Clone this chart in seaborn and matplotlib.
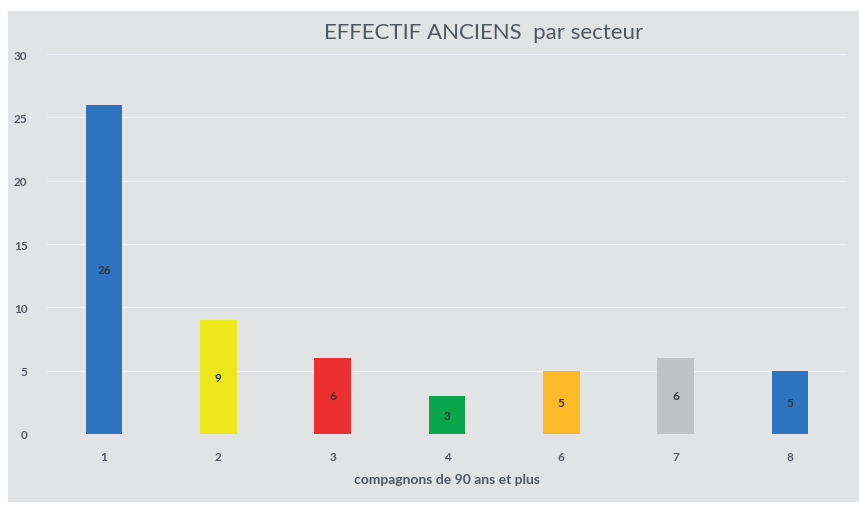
import numpy as np
import pandas as pd
import matplotlib
matplotlib.use("Agg")
import matplotlib.pyplot as plt
import seaborn as sns

secteurs = ['1', '2', '3', '4', '6', '7', '8']
effectifs = [26, 9, 6, 3, 5, 6, 5]
couleurs = ['#2e74c0', '#ece81c', '#ec3030', '#0aa54c', '#fdb92a', '#c0c2c4', '#2e74c0']

df = pd.DataFrame({'secteur': secteurs, 'effectif': effectifs})

sns.set_theme(style='white')
plt.rcParams['font.family'] = ['Lato', 'DejaVu Sans']

bg = '#e2e3e5'
fig = plt.figure(figsize=(8.59, 5.06), dpi=100, facecolor='white')
fond = plt.Rectangle((8 / 859, 4 / 506), 1, 490 / 506,
                     transform=fig.transFigure, color=bg, zorder=-10)
fig.add_artist(fond)
ax = fig.add_axes([47 / 859, 71 / 506, 800 / 859, 380 / 506])
ax.set_facecolor(bg)

sns.barplot(data=df, x='secteur', y='effectif', hue='secteur', palette=couleurs,
            width=0.32, legend=False, ax=ax, zorder=3, saturation=1, linewidth=0)

for c in ax.containers:
    ax.bar_label(c, label_type='center', fontsize=8.5, color='#333333', fontweight='bold')

ax.set_ylim(0, 30)
ax.set_xlim(-0.5, len(secteurs) - 0.5)
ax.set_yticks(range(0, 31, 5))
ax.yaxis.grid(True, color='#eef2f6', linewidth=0.9, zorder=0)
ax.set_axisbelow(True)
for s in ax.spines.values():
    s.set_visible(False)
ax.tick_params(axis='y', length=0, pad=14, labelsize=8.5, labelcolor='#555b62')
ax.tick_params(axis='x', length=0, pad=12, labelsize=8.5, labelcolor='#555b62')
for t in ax.get_yticklabels() + ax.get_xticklabels():
    t.set_fontweight('bold')
ax.set_xlabel('compagnons de 90 ans et plus', fontsize=10, color='#4f5861',
              fontweight='bold', labelpad=8)
ax.set_ylabel('')
fig.text(0.563, 0.935, 'EFFECTIF ANCIENS  par secteur', ha='center', va='center',
         fontsize=16, color='#4f5861')

fig.savefig('out.png', dpi=100, facecolor='white')
